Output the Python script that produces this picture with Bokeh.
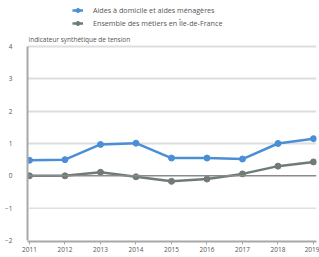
from bokeh.plotting import figure
from bokeh.models import Range1d, FixedTicker, Legend, LegendItem, Label, Span
from bokeh.embed import file_html
from bokeh.resources import INLINE

years = [2011, 2012, 2013, 2014, 2015, 2016, 2017, 2018, 2019]
aides = [0.48, 0.5, 0.97, 1.01, 0.55, 0.55, 0.52, 1.0, 1.15]
ensemble = [0.0, 0.0, 0.11, -0.03, -0.17, -0.1, 0.06, 0.3, 0.43]
label_aides = "Aides à domicile et aides ménagères"
label_ens = "Ensemble des métiers en Île-de-France"
y_title = "indicateur synthétique de tension"
y_ticks = [-2, -1, 0, 1, 2, 3, 4]

BLUE = "#4a8fd6"
GREY = "#6e7b76"
TXT = "#555555"
FONT = "Open Sans"

p = figure(width=319, height=257, output_backend="svg", toolbar_location=None,
           x_range=Range1d(2010.944, 2019.085), y_range=Range1d(-2.031, 5.423),
           min_border_left=27, min_border_right=3, min_border_top=0, min_border_bottom=16)
p.outline_line_color = None
p.background_fill_color = "white"

p.xgrid.grid_line_color = None
p.ygrid.ticker = FixedTicker(ticks=[1, 2, 3, 4])
p.ygrid.grid_line_color = "#dedede"
p.ygrid.grid_line_width = 2

p.add_layout(Span(location=-1, dimension="width", line_color="#cfcfcf", line_width=1))
p.add_layout(Span(location=0, dimension="width", line_color="#8a8a8a", line_width=1.5))

l1 = p.line(years, aides, line_color=BLUE, line_width=2.5)
s1 = p.scatter(years, aides, size=6, fill_color=BLUE, line_color=BLUE)
l2 = p.line(years, ensemble, line_color=GREY, line_width=2.5)
s2 = p.scatter(years, ensemble, size=6, fill_color=GREY, line_color=GREY)

p.xaxis.ticker = FixedTicker(ticks=years)
p.yaxis.ticker = FixedTicker(ticks=y_ticks)
p.yaxis.bounds = (-2, 4)
for ax in (p.xaxis[0], p.yaxis[0]):
    ax.axis_line_color = "#a8a8a8"
    ax.axis_line_width = 2
    ax.major_label_text_font = FONT
    ax.major_label_text_font_size = "6.5px"
    ax.major_label_text_color = TXT
    ax.minor_tick_line_color = None
p.xaxis.major_tick_line_color = "#a8a8a8"
p.xaxis.major_tick_out = 3
p.xaxis.major_tick_in = 0
p.xaxis.major_label_standoff = 2
p.yaxis.major_tick_line_color = None
p.yaxis.major_label_standoff = 9

legend = Legend(items=[LegendItem(label=label_aides, renderers=[l1, s1]),
                       LegendItem(label=label_ens, renderers=[l2, s2])],
                location=(45, 213), background_fill_alpha=0, border_line_color=None,
                label_text_font=FONT, label_text_font_size="7.2px", label_text_color=TXT,
                glyph_width=11, glyph_height=10, label_height=10, spacing=3, padding=0,
                margin=0, label_standoff=10)
p.add_layout(legend, "center")

p.add_layout(Label(x=1, y=202, x_units="screen", y_units="screen", text=y_title,
                   text_baseline="middle", text_font=FONT, text_font_size="6.5px",
                   text_color=TXT))

open("out.html", "w").write(file_html(p, INLINE))
